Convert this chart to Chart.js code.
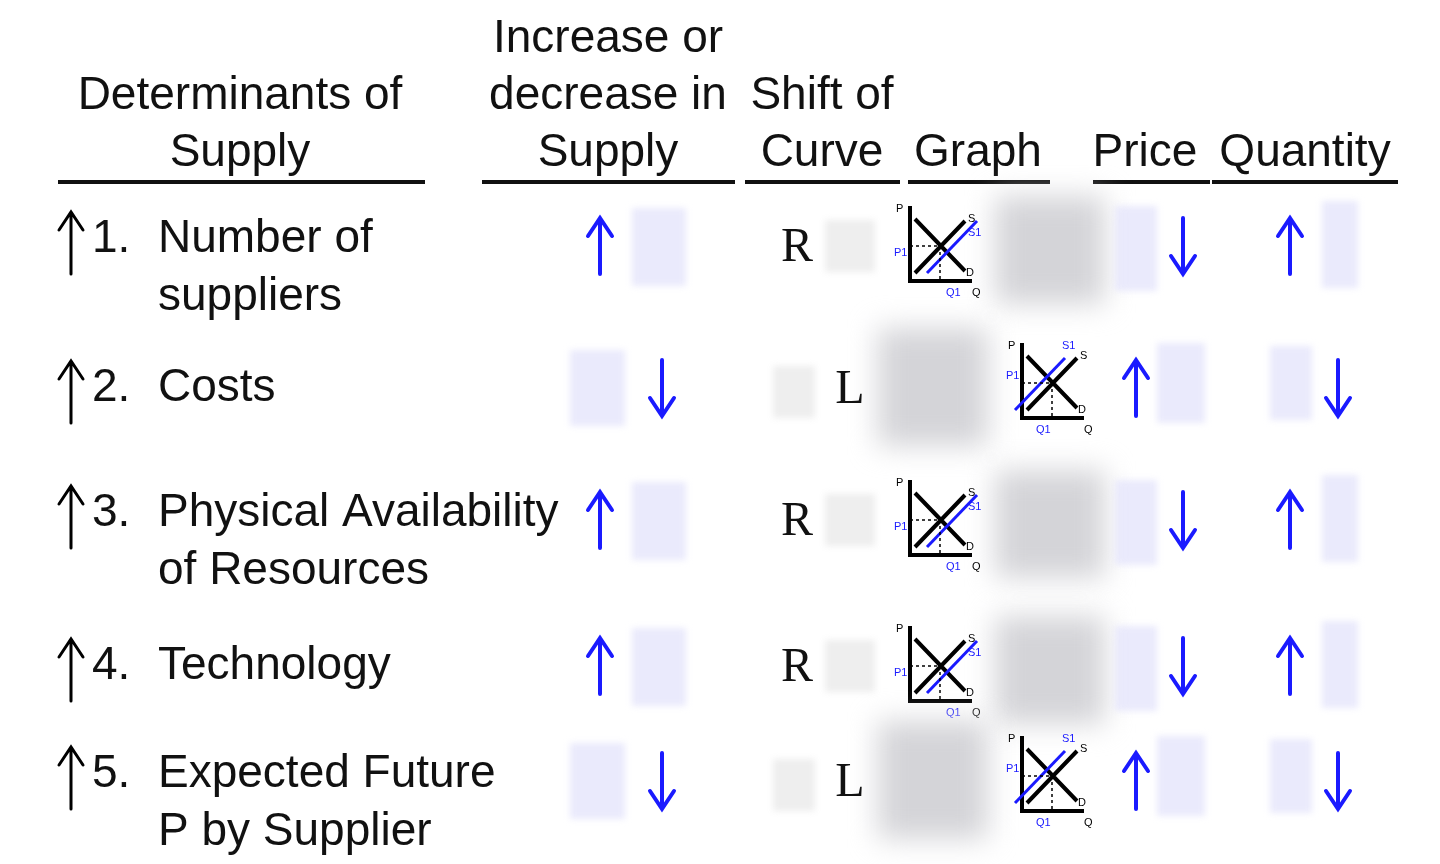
<!DOCTYPE html>
<html><head><meta charset="utf-8">
<script src="https://cdn.jsdelivr.net/npm/chart.js@4/dist/chart.umd.min.js"></script>
<style>html,body{margin:0;background:#fff}#wrap{width:1440px;height:864px}</style>
</head><body><div id="wrap"><canvas id="c"></canvas></div>
<script>
// table content
const headers = [
  {lines:['Determinants of','Supply'], x:240},
  {lines:['Increase or','decrease in','Supply'], x:608},
  {lines:['Shift of','Curve'], x:822},
  {lines:['Graph'], x:978},
  {lines:['Price'], x:1145},
  {lines:['Quantity'], x:1305}
]
const underlines = [[58,425],[482,735],[745,900],[908,1050],[1093,1210],[1212,1398]]
const determinants = [['Number of','suppliers'],['Costs'],['Physical Availability','of Resources'],['Technology'],['Expected Future','P by Supplier']]
const rowY = [268,388,542,666,803]
const supplyChange = ['up','down','up','up','down']
const shiftDir = ['R','L','R','R','L']
const priceChange = ['down','up','down','down','up']
const quantityChange = ['up','down','up','up','down']

/*=========================== helpers ===========================*/
const arrow = (ctx,x,y,dir,color,len,w)=>{
  ctx.save(); ctx.strokeStyle=color; ctx.lineWidth=w; ctx.lineCap='round'
  const s = dir==='up'?-1:1
  ctx.beginPath(); ctx.moveTo(x,y-s*len/2); ctx.lineTo(x,y+s*len/2)
  ctx.moveTo(x-12,y+s*len/2-s*18); ctx.lineTo(x,y+s*len/2); ctx.lineTo(x+12,y+s*len/2-s*18)
  ctx.stroke(); ctx.restore()
}
const blurBox = (ctx,x1,y1,x2,y2,color,b)=>{
  ctx.save(); ctx.filter=`blur(${b}px)`; ctx.fillStyle=color
  ctx.fillRect(x1,y1,x2-x1,y2-y1); ctx.restore()
}
const miniGraph = (ctx,x,y,dir)=>{
  // x,y = origin (bottom-left)
  ctx.save(); ctx.lineWidth=4; ctx.strokeStyle='#000'
  ctx.beginPath(); ctx.moveTo(x,y-75); ctx.lineTo(x,y); ctx.lineTo(x+62,y)
  ctx.moveTo(x+5,y-62); ctx.lineTo(x+55,y-10) // D
  ctx.moveTo(x+5,y-8); ctx.lineTo(x+55,y-60)  // S
  ctx.stroke()
  ctx.strokeStyle='#1a1aff'; ctx.lineWidth=3
  const o = dir==='R'?12:-12
  ctx.beginPath(); ctx.moveTo(x+5+o,y-8); ctx.lineTo(x+55+o,y-60); ctx.stroke()
  ctx.setLineDash([3,3]); ctx.lineWidth=1.5; ctx.strokeStyle='#000'
  ctx.beginPath(); ctx.moveTo(x,y-35); ctx.lineTo(x+30,y-35); ctx.lineTo(x+30,y); ctx.stroke()
  ctx.restore()
  ctx.font='11px Liberation Sans'; ctx.fillStyle='#000'
  ctx.fillText('P',x-14,y-72); ctx.fillText('S',x+58,y-62); ctx.fillText('D',x+56,y-8); ctx.fillText('Q',x+62,y+12)
  ctx.fillStyle='#1a1aff'; ctx.fillText('S1',x+(dir==='R'?58:40),y-(dir==='R'?48:72))
  ctx.fillText('P1',x-16,y-(dir==='R'?28:42)); ctx.fillText('Q1',x+(dir==='R'?36:14),y+12)
}

/*=========================== plugin ===========================*/
const tablePlugin = {
  id:'table',
  afterDraw(chart){
    const ctx = chart.ctx, sx = chart.scales.x, sy = chart.scales.y
    const X = v=>sx.getPixelForValue(v), Y = v=>sy.getPixelForValue(v)
    const font = '46px Liberation Sans'
    ctx.save(); ctx.fillStyle='#111'; ctx.font=font; ctx.textAlign='center'; ctx.textBaseline='middle'
    headers.forEach(h=>{
      h.lines.forEach((l,i)=>ctx.fillText(l,X(h.x),Y(153-(h.lines.length-1-i)*57)))
    })
    ctx.strokeStyle='#111'; ctx.lineWidth=4
    underlines.forEach(([a,b])=>{ctx.beginPath();ctx.moveTo(X(a),Y(182));ctx.lineTo(X(b),Y(182));ctx.stroke()})
    ctx.textAlign='left'
    determinants.forEach((d,i)=>{
      const top = rowY[i]-(d.length-1)*29
      d.forEach((l,j)=>ctx.fillText(l,X(158),Y(top+j*58)))
      ctx.fillText(`${i+1}.`,X(92),Y(top))
      arrow(ctx,X(71),Y(top+4),'up','#000',62,3)
      const c = rowY[i]-(d.length>1?22:0), r = shiftDir[i]==='R'
      const lav='rgba(232,232,252,0.9)', gr='rgba(238,238,238,1)', blur='rgba(212,212,216,1)'
      if(r){
        blurBox(ctx,X(632),Y(c-38),X(686),Y(c+40),lav,3); arrow(ctx,X(600),Y(c),supplyChange[i],'#1a1aff',56,4)
        blurBox(ctx,X(825),Y(c-26),X(875),Y(c+26),gr,3)
        blurBox(ctx,X(995),Y(c-50),X(1105),Y(c+58),blur,14)
        miniGraph(ctx,X(910),Y(c+35),'R')
        blurBox(ctx,X(1115),Y(c-40),X(1157),Y(c+45),lav,3)
        blurBox(ctx,X(1322),Y(c-45),X(1358),Y(c+42),lav,3)
      }else{
        blurBox(ctx,X(570),Y(c-38),X(625),Y(c+38),lav,3); arrow(ctx,X(662),Y(c),supplyChange[i],'#1a1aff',56,4)
        blurBox(ctx,X(773),Y(c-22),X(815),Y(c+30),gr,3)
        blurBox(ctx,X(878),Y(c-60),X(988),Y(c+58),blur,14)
        miniGraph(ctx,X(1022),Y(c+30),'L')
        blurBox(ctx,X(1157),Y(c-45),X(1205),Y(c+35),lav,3)
        blurBox(ctx,X(1270),Y(c-42),X(1312),Y(c+32),lav,3)
      }
      ctx.fillStyle='#111'; ctx.font='48px Liberation Serif'; ctx.textAlign='center'
      ctx.fillText(shiftDir[i],X(r?797:850),Y(c+2))
      ctx.font=font; ctx.textAlign='left'
      arrow(ctx,X(r?1183:1136),Y(c),priceChange[i],'#1a1aff',56,4)
      arrow(ctx,X(r?1290:1338),Y(c),quantityChange[i],'#1a1aff',56,4)
    })
    ctx.restore()
  }
}

new Chart(document.getElementById('c'),{
  type:'scatter',
  data:{datasets:[{data:[],pointRadius:0}]},
  options:{
    responsive:true, maintainAspectRatio:false, animation:false,
    layout:{padding:0},
    plugins:{legend:{display:false},tooltip:{enabled:false}},
    scales:{
      x:{type:'linear',min:0,max:1440,display:false},
      y:{type:'linear',min:0,max:864,reverse:true,display:false}
    }
  },
  plugins:[tablePlugin]
})
</script></body></html>
